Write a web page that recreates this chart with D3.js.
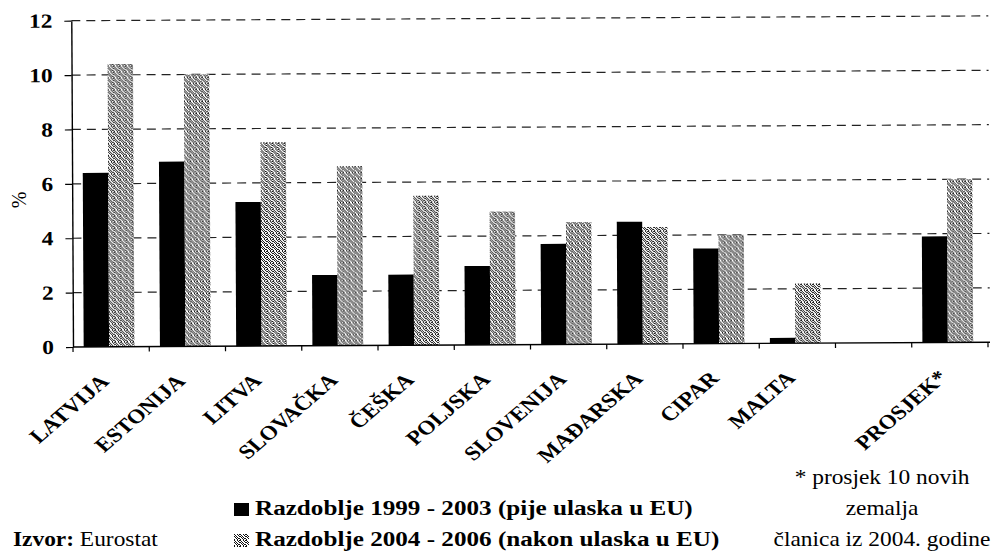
<!DOCTYPE html>
<html>
<head>
<meta charset="utf-8">
<script src="https://cdn.jsdelivr.net/npm/d3@7"></script>
<style>
  body { margin: 0; background: #fff; }
  svg { display: block; }
  svg text { font-family: "Liberation Serif", "Tinos", "Times New Roman", "DejaVu Serif", serif; fill: #000; }
</style>
</head>
<body>
<svg id="chart" width="994" height="553"></svg>
<script>
// data
const categories = ["LATVIJA", "ESTONIJA", "LITVA", "SLOVAČKA", "ČEŠKA", "POLJSKA",
                    "SLOVENIJA", "MAĐARSKA", "CIPAR", "MALTA", "", "PROSJEK*"];
const period1 = [6.4, 6.8, 5.3, 2.6, 2.6, 2.9, 3.7, 4.5, 3.5, 0.2, 0, 3.9];
const period2 = [10.4, 10.0, 7.5, 6.6, 5.5, 4.9, 4.5, 4.3, 4.0, 2.2, 0, 6.0];
const yTicks = [0, 2, 4, 6, 8, 10, 12];
const seriesNames = ["Razdoblje 1999 - 2003 (pije ulaska u EU)",
                     "Razdoblje 2004 - 2006 (nakon ulaska u EU)"];
const yLabel = "%";
const sourceLabel = "Izvor:";
const sourceName = " Eurostat";
const footnoteLines = ["* prosjek 10 novih", "zemalja", "članica iz 2004. godine"];

const SX = 1.17;   // the scan is a bit stretched horizontally
const TILT = -0.3; // and slightly rotated

const svg = d3.select("#chart");
const x0 = 73, x1 = 988, yBase = 347, yTop = 20.7;

// dithered grey like the printed bars
const ditherRows = ["100101", "010010", "101001", "010100", "001011", "100100"];
const pat = svg.append("defs").append("pattern")
    .attr("id", "dither")
    .attr("width", 6).attr("height", 6)
    .attr("patternUnits", "userSpaceOnUse");
pat.append("rect").attr("width", 6).attr("height", 6).attr("fill", "#fff");
ditherRows.forEach((row, j) => {
    row.split("").forEach((c, i) => {
        if (c === "1") pat.append("rect").attr("x", i).attr("y", j).attr("width", 1).attr("height", 1).attr("fill", "#111");
    });
});

const seriesFill = ["#000", "url(#dither)"];

const x = d3.scaleBand().domain(d3.range(categories.length)).range([x0, x1]).padding(0);
const xSub = d3.scaleBand().domain([0, 1]).range([0, x.bandwidth()])
    .paddingInner(0).paddingOuter(0.5).align(0.42);
const y = d3.scaleLinear().domain([0, 12]).range([yBase, yTop]);

const plot = svg.append("g").attr("transform", `rotate(${TILT},${x0},${yBase})`);

// dashed gridlines
plot.append("g").selectAll("line")
    .data(yTicks.filter(d => d > 0))
    .enter().append("line")
    .attr("x1", x0).attr("x2", x1 + 2)
    .attr("y1", d => y(d)).attr("y2", d => y(d))
    .attr("stroke", "#222")
    .attr("stroke-width", 1.2)
    .attr("stroke-dasharray", "9,6");

// bars
const rows = categories.map((c, i) => ({ i, vals: [period1[i], period2[i]] }));
const groups = plot.append("g").selectAll("g")
    .data(rows)
    .enter().append("g")
    .attr("transform", d => `translate(${x(d.i)},0)`);
groups.selectAll("rect")
    .data(d => d.vals.map((v, k) => ({ v, k })))
    .enter().append("rect")
    .attr("x", d => xSub(d.k))
    .attr("width", xSub.bandwidth())
    .attr("y", d => y(d.v))
    .attr("height", d => yBase - y(d.v))
    .attr("fill", d => seriesFill[d.k]);

// y axis
const yAxis = plot.append("g")
    .attr("transform", `translate(${x0},0)`)
    .call(d3.axisLeft(y).tickValues(yTicks).tickSize(7).tickSizeOuter(0).tickFormat(d3.format("d")));
yAxis.attr("font-family", null);
yAxis.select(".domain").attr("stroke", "#000").attr("stroke-width", 1.4);
yAxis.selectAll(".tick line").attr("stroke", "#000").attr("stroke-width", 1.2);
yAxis.selectAll(".tick text")
    .attr("x", null)
    .attr("transform", `translate(-19,0) scale(${SX},1)`)
    .attr("font-size", 20)
    .attr("font-weight", "bold");

// x axis with ticks between categories
plot.append("line")
    .attr("x1", x0).attr("x2", x1 + 2)
    .attr("y1", yBase).attr("y2", yBase)
    .attr("stroke", "#000").attr("stroke-width", 1.4);
plot.append("g").selectAll("line")
    .data(d3.range(categories.length + 1))
    .enter().append("line")
    .attr("x1", d => x0 + d * x.step()).attr("x2", d => x0 + d * x.step())
    .attr("y1", yBase).attr("y2", yBase + 5)
    .attr("stroke", "#000").attr("stroke-width", 1.2);

// rotated category labels
plot.append("g").selectAll("text")
    .data(categories.map((c, i) => ({ c, i })))
    .enter().append("text")
    .attr("transform", d => `translate(${x(d.i) + x.bandwidth() / 2 - 7},${yBase + 31}) scale(${SX},1) rotate(-45)`)
    .attr("dy", "0.35em")
    .attr("text-anchor", "end")
    .attr("font-size", 20)
    .attr("font-weight", "bold")
    .text(d => d.c);

// y label
svg.append("text")
    .attr("transform", "translate(26,200) rotate(-90)")
    .attr("text-anchor", "middle")
    .attr("font-size", 20)
    .text(yLabel);

// legend
const legend = svg.append("g");
seriesNames.forEach((name, k) => {
    const by = 515 + k * 31;
    legend.append("rect")
        .attr("x", 234).attr("y", by - 12)
        .attr("width", 15).attr("height", 13)
        .attr("fill", seriesFill[k]);
    legend.append("text")
        .attr("transform", `translate(255,${by}) scale(${SX},1)`)
        .attr("font-size", 21.5)
        .attr("font-weight", "bold")
        .text(name);
});

// source
const src = svg.append("text")
    .attr("transform", `translate(13,546) scale(${SX},1)`)
    .attr("font-size", 20);
src.append("tspan").attr("font-weight", "bold").text(sourceLabel);
src.append("tspan").text(sourceName);

// footnote
svg.append("g").selectAll("text")
    .data(footnoteLines)
    .enter().append("text")
    .attr("transform", (d, i) => `translate(882,${484 + i * 31}) scale(${SX},1)`)
    .attr("text-anchor", "middle")
    .attr("font-size", 20)
    .text(d => d);
</script>
</body>
</html>
